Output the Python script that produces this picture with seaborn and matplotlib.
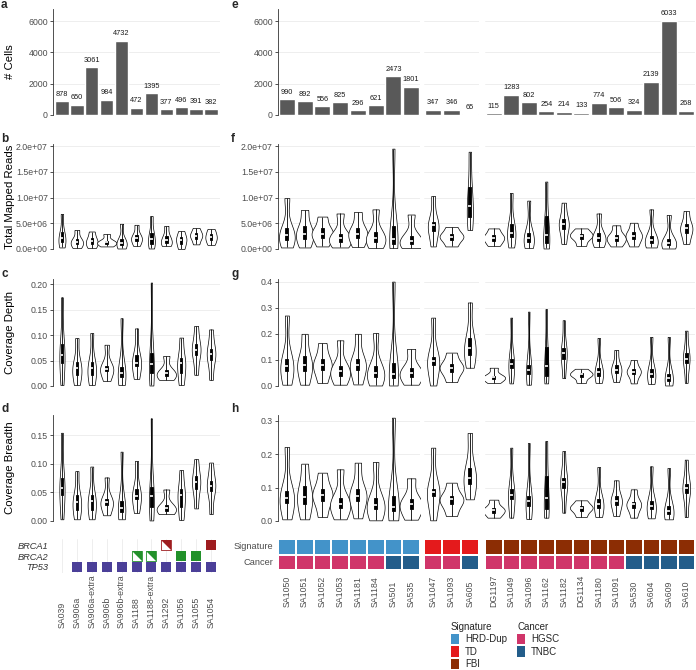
import matplotlib
matplotlib.use("Agg")
import matplotlib.pyplot as plt
import numpy as np
import pandas as pd
import seaborn as sns
from matplotlib.colors import ListedColormap
from matplotlib.patches import Patch
from matplotlib.ticker import FuncFormatter

# ---------------------------------------------------------------- data
left_samples = ["SA039", "SA906a", "SA906a-extra", "SA906b", "SA906b-extra",
                "SA1188", "SA1188-extra", "SA1292", "SA1056", "SA1055", "SA1054"]
left_cells = [878, 650, 3061, 984, 4732, 472, 1395, 377, 496, 391, 382]

# violin summaries: (min, q1, median, q3, max)
left_reads = [  # millions of reads
    (0.3, 1.3, 2.1, 3.3, 6.8), (0.2, 0.9, 1.4, 2.0, 3.7), (0.2, 0.9, 1.5, 2.2, 3.4),
    (0.5, 1.0, 1.3, 1.6, 2.9), (0.1, 0.7, 1.2, 1.9, 4.9), (0.6, 1.6, 2.1, 2.7, 4.7),
    (0.1, 1.0, 2.0, 3.2, 6.4), (0.6, 1.1, 1.7, 2.6, 4.5), (0.0, 1.0, 1.8, 2.4, 3.5),
    (0.9, 2.0, 2.6, 3.1, 4.1), (0.8, 1.7, 2.3, 3.0, 3.9),
]
left_depth = [
    (0.002, 0.045, 0.061, 0.082, 0.174), (0.002, 0.022, 0.035, 0.047, 0.094),
    (0.002, 0.022, 0.035, 0.048, 0.104), (0.010, 0.029, 0.034, 0.040, 0.081),
    (0.002, 0.018, 0.025, 0.038, 0.133), (0.014, 0.040, 0.045, 0.060, 0.113),
    (0.001, 0.025, 0.043, 0.065, 0.203), (0.012, 0.019, 0.025, 0.031, 0.059),
    (0.002, 0.025, 0.045, 0.055, 0.095), (0.022, 0.060, 0.071, 0.082, 0.118),
    (0.012, 0.052, 0.063, 0.073, 0.111),
]
left_breadth = [
    (0.003, 0.045, 0.057, 0.075, 0.154), (0.003, 0.020, 0.034, 0.045, 0.087),
    (0.003, 0.020, 0.035, 0.045, 0.095), (0.010, 0.028, 0.033, 0.038, 0.076),
    (0.003, 0.015, 0.022, 0.035, 0.121), (0.014, 0.038, 0.044, 0.055, 0.105),
    (0.001, 0.025, 0.043, 0.060, 0.179), (0.012, 0.018, 0.022, 0.028, 0.055),
    (0.002, 0.025, 0.045, 0.055, 0.089), (0.022, 0.055, 0.068, 0.078, 0.108),
    (0.012, 0.052, 0.061, 0.070, 0.102),
]

# mutation status per left sample
tp53_mut = ["none", "full", "full", "full", "full", "full", "full", "full", "full", "full", "full"]
brca2_mut = ["none", "none", "none", "none", "none", "half", "half", "none", "full", "full", "none"]
brca1_mut = ["none", "none", "none", "none", "none", "none", "none", "half", "none", "none", "full"]

hrd_samples = ["SA1050", "SA1051", "SA1052", "SA1053", "SA1181", "SA1184", "SA501", "SA535"]
td_samples = ["SA1047", "SA1093", "SA605"]
fbi_samples = ["DG1197", "SA1049", "SA1096", "SA1162", "SA1182", "DG1134",
               "SA1180", "SA1091", "SA530", "SA604", "SA609", "SA610"]

right_cells = [990, 892, 556, 825, 296, 621, 2473, 1801,
               347, 346, 65,
               115, 1283, 802, 254, 214, 133, 774, 506, 324, 2139, 6033, 268]
right_signature = ["HRD-Dup", "HRD-Dup", "HRD-Dup", "HRD-Dup", "HRD-Dup", "HRD-Dup", "HRD-Dup", "HRD-Dup",
                   "TD", "TD", "TD",
                   "FBI", "FBI", "FBI", "FBI", "FBI", "FBI", "FBI", "FBI", "FBI", "FBI", "FBI", "FBI"]
right_cancer = ["HGSC", "HGSC", "HGSC", "HGSC", "HGSC", "HGSC", "TNBC", "TNBC",
                "HGSC", "HGSC", "TNBC",
                "HGSC", "HGSC", "HGSC", "HGSC", "HGSC", "HGSC", "HGSC", "HGSC", "TNBC", "TNBC", "TNBC", "TNBC"]

right_reads = [  # millions of reads
    (0.3, 1.8, 2.7, 4.0, 9.9), (0.3, 2.0, 3.0, 4.4, 7.6), (0.5, 2.2, 3.0, 4.0, 6.3),
    (0.3, 1.4, 2.1, 3.0, 6.9), (0.4, 2.1, 3.0, 4.1, 7.2), (0.2, 1.4, 2.2, 3.3, 7.7),
    (0.2, 1.0, 1.9, 4.5, 19.5), (0.2, 0.9, 1.6, 2.6, 6.7),
    (0.5, 3.5, 4.7, 5.3, 10.3), (0.5, 1.8, 2.4, 3.0, 4.3), (3.7, 6.3, 8.4, 12.0, 18.9),
    (0.6, 1.6, 2.2, 2.8, 4.0), (0.3, 2.4, 3.2, 4.8, 10.9), (0.2, 1.3, 2.1, 3.2, 9.4),
    (0.1, 1.2, 2.8, 6.4, 13.1), (1.0, 3.8, 4.8, 5.8, 9.0), (0.6, 2.0, 2.6, 3.0, 4.0),
    (0.4, 1.5, 2.2, 3.1, 6.9), (0.5, 1.6, 2.1, 2.8, 4.6), (0.5, 1.9, 2.6, 3.3, 5.1),
    (0.3, 1.1, 1.7, 2.5, 7.7), (0.1, 0.7, 1.2, 1.9, 6.6), (1.0, 3.1, 4.0, 4.8, 7.4),
]
right_depth = [
    (0.005, 0.058, 0.077, 0.105, 0.270), (0.005, 0.058, 0.080, 0.115, 0.200),
    (0.012, 0.060, 0.080, 0.105, 0.165), (0.005, 0.040, 0.058, 0.075, 0.175),
    (0.006, 0.060, 0.080, 0.105, 0.200), (0.002, 0.035, 0.050, 0.075, 0.203),
    (0.002, 0.030, 0.045, 0.090, 0.400), (0.005, 0.035, 0.050, 0.070, 0.142),
    (0.002, 0.080, 0.095, 0.110, 0.262), (0.015, 0.055, 0.070, 0.085, 0.128),
    (0.070, 0.120, 0.145, 0.185, 0.320),
    (0.012, 0.027, 0.033, 0.040, 0.070), (0.010, 0.070, 0.083, 0.105, 0.262),
    (0.005, 0.045, 0.063, 0.080, 0.285), (0.010, 0.040, 0.075, 0.150, 0.295),
    (0.030, 0.105, 0.128, 0.145, 0.252), (0.012, 0.035, 0.045, 0.050, 0.066),
    (0.012, 0.040, 0.055, 0.070, 0.184), (0.015, 0.050, 0.063, 0.080, 0.138),
    (0.010, 0.045, 0.055, 0.065, 0.100), (0.008, 0.035, 0.047, 0.065, 0.188),
    (0.002, 0.020, 0.032, 0.045, 0.188), (0.012, 0.090, 0.105, 0.125, 0.212),
]
right_breadth = [
    (0.005, 0.055, 0.070, 0.090, 0.222), (0.005, 0.050, 0.073, 0.105, 0.172),
    (0.012, 0.060, 0.078, 0.095, 0.145), (0.005, 0.040, 0.050, 0.070, 0.155),
    (0.008, 0.060, 0.075, 0.095, 0.175), (0.002, 0.035, 0.047, 0.070, 0.177),
    (0.002, 0.030, 0.043, 0.075, 0.310), (0.004, 0.035, 0.050, 0.065, 0.128),
    (0.002, 0.075, 0.088, 0.095, 0.220), (0.015, 0.050, 0.065, 0.075, 0.115),
    (0.065, 0.110, 0.130, 0.160, 0.264),
    (0.010, 0.025, 0.033, 0.040, 0.064), (0.010, 0.065, 0.078, 0.095, 0.220),
    (0.006, 0.045, 0.060, 0.075, 0.234), (0.010, 0.035, 0.070, 0.135, 0.240),
    (0.025, 0.100, 0.116, 0.130, 0.210), (0.012, 0.030, 0.040, 0.045, 0.062),
    (0.012, 0.040, 0.052, 0.065, 0.162), (0.015, 0.048, 0.060, 0.075, 0.122),
    (0.010, 0.040, 0.050, 0.058, 0.095), (0.008, 0.035, 0.045, 0.060, 0.164),
    (0.005, 0.020, 0.030, 0.045, 0.159), (0.012, 0.085, 0.098, 0.110, 0.184),
]

category_names = ["HRD-Dup", "TD", "FBI", "HGSC", "TNBC"]
category_colors = ["#4393C9", "#E41A1C", "#8C2D04", "#D0356A", "#235D8A"]
gene_names = ["TP53", "BRCA2", "BRCA1"]
gene_colors = ["#4B3F98", "#22912A", "#9E1C1F"]

# ---------------------------------------------------------------- style
sns.set_theme(style="white")
plt.rcParams["font.family"] = ["Liberation Sans", "DejaVu Sans"]
TICK_COL = "#4D4D4D"
GRID_COL = "#EBEBEB"
TICK_FS = 6.3

W, H = 696, 670
fig = plt.figure(figsize=(W / 100, H / 100), dpi=100)


def add_ax(x0, y0, x1, y1):
    return fig.add_axes([x0 / W, 1 - y1 / H, (x1 - x0) / W, (y1 - y0) / H])


def style_panel(ax, first):
    for s in ax.spines.values():
        s.set_visible(False)
    ax.grid(axis="y", color=GRID_COL, lw=0.6)
    ax.grid(axis="x", visible=False)
    ax.set_axisbelow(True)
    ax.set_xlabel("")
    ax.set_ylabel("")
    ax.tick_params(axis="x", bottom=False, labelbottom=False)
    if first:
        ax.spines["left"].set_visible(True)
        ax.spines["left"].set_color("#333333")
        ax.spines["left"].set_linewidth(0.6)
        ax.tick_params(axis="y", left=True, length=2.2, width=0.6, color="#333333",
                       labelsize=TICK_FS, labelcolor=TICK_COL, pad=1.5)
    else:
        ax.tick_params(axis="y", left=False, labelleft=False)


def long_table(samples, stats, scale=1.0):
    return pd.DataFrame({
        "sample": np.repeat(samples, 5),
        "value": np.concatenate([np.asarray(s) * scale for s in stats]),
    })


def draw_bars(ax, samples, cells, nexp):
    sns.barplot(x=samples, y=cells, color="#595959", saturation=1, width=0.9, ax=ax)
    ax.bar_label(ax.containers[0], fontsize=5.3, padding=2.5, color="#1A1A1A")
    ax.set_xlim(-nexp, len(samples) - 1 + nexp)
    ax.set_ylim(0, 6770)
    ax.set_yticks([0, 2000, 4000, 6000])


def draw_violins(ax, df, samples, nexp):
    sns.violinplot(data=df, x="sample", y="value", order=samples, color="white",
                   linecolor="black", linewidth=0.5, cut=0, inner=None,
                   density_norm="area", width=1.3, bw_adjust=0.75, saturation=1, ax=ax)
    sns.boxplot(data=df, x="sample", y="value", order=samples, whis=(0, 100),
                width=0.17, showfliers=False, showcaps=False, color="black",
                linecolor="black", linewidth=0.6, saturation=1,
                medianprops=dict(color="white", lw=1.2), ax=ax)
    ax.set_xlim(-nexp, len(samples) - 1 + nexp)


# ---------------------------------------------------------------- layout (px)
LEFT_X = (53, 220)
RIGHT_X = [(278, 420), (424, 479), (485, 695)]
ROWS = [(9, 115), (144, 249), (279, 386), (415, 521)]
right_groups = [hrd_samples, td_samples, fbi_samples]
bounds = np.cumsum([0] + [len(g) for g in right_groups])

sci = FuncFormatter(lambda v, _: f"{v:.1e}")
fmt2 = FuncFormatter(lambda v, _: f"{v:.2f}")
fmt1 = FuncFormatter(lambda v, _: f"{v:.1f}")

metrics = [
    # left stats, right stats, scale, left ylim, right ylim, left ticks, right ticks, formatters
    (left_reads, right_reads, 1e6, (0, 2.04e7), (0, 2.04e7),
     [0, 5e6, 1e7, 1.5e7, 2e7], [0, 5e6, 1e7, 1.5e7, 2e7], sci, sci, "Total Mapped Reads"),
    (left_depth, right_depth, 1.0, (0, 0.21), (0, 0.41),
     [0, 0.05, 0.10, 0.15, 0.20], [0, 0.1, 0.2, 0.3, 0.4], fmt2, fmt1, "Coverage Depth"),
    (left_breadth, right_breadth, 1.0, (0, 0.185), (0, 0.318),
     [0, 0.05, 0.10, 0.15], [0, 0.1, 0.2, 0.3], fmt2, fmt1, "Coverage Breadth"),
]

YLAB_X = -0.228
YLAB_FS = 8.2

# row a / e: cell counts
ax = add_ax(LEFT_X[0], ROWS[0][0], LEFT_X[1], ROWS[0][1])
draw_bars(ax, left_samples, left_cells, 0.6)
style_panel(ax, True)
ax.set_ylabel("# Cells", fontsize=YLAB_FS, color="black")
ax.yaxis.set_label_coords(YLAB_X, 0.5)

for k, (x0, x1) in enumerate(RIGHT_X):
    ax = add_ax(x0, ROWS[0][0], x1, ROWS[0][1])
    lo, hi = bounds[k], bounds[k + 1]
    draw_bars(ax, right_groups[k], right_cells[lo:hi], 0.5)
    style_panel(ax, k == 0)

# rows b-d / f-h: violins
for r, (lstats, rstats, scale, lyl, ryl, lt, rt, lf, rf, title) in enumerate(metrics):
    y0, y1 = ROWS[r + 1]
    ax = add_ax(LEFT_X[0], y0, LEFT_X[1], y1)
    draw_violins(ax, long_table(left_samples, lstats, scale), left_samples, 0.6)
    ax.set_ylim(*lyl)
    ax.set_yticks(lt)
    ax.yaxis.set_major_formatter(lf)
    style_panel(ax, True)
    ax.set_ylabel(title, fontsize=YLAB_FS, color="black")
    ax.yaxis.set_label_coords(YLAB_X, 0.5)

    rdf = long_table(hrd_samples + td_samples + fbi_samples, rstats, scale)
    for k, (x0, x1) in enumerate(RIGHT_X):
        ax = add_ax(x0, y0, x1, y1)
        grp = right_groups[k]
        draw_violins(ax, rdf[rdf["sample"].isin(grp)], grp, 0.5)
        ax.set_ylim(*ryl)
        ax.set_yticks(rt)
        ax.yaxis.set_major_formatter(rf)
        style_panel(ax, k == 0)

# panel letters
letter_pos = [("a", 1, 8), ("b", 1, 142), ("c", 1, 277), ("d", 1, 412),
              ("e", 231, 8), ("f", 231, 142), ("g", 231, 277), ("h", 231, 412)]
for txt, x, y in letter_pos:
    fig.text(x / W, 1 - y / H, txt, fontsize=8.5, fontweight="bold", va="baseline", ha="left")

# mutation track (left)
ax = add_ax(LEFT_X[0], 539, LEFT_X[1], 573)
half_marker = [(-1, 1), (1, 1), (1, -1)]
for row, (status, col) in enumerate(zip([tp53_mut, brca2_mut, brca1_mut], gene_colors)):
    xf = [i for i, s in enumerate(status) if s == "full"]
    xh = [i for i, s in enumerate(status) if s == "half"]
    ax.scatter(xf, [row] * len(xf), marker="s", s=46, color=col, lw=0, zorder=3)
    ax.scatter(xh, [row] * len(xh), marker="s", s=46, facecolor="white",
               edgecolor=col, lw=0.6, zorder=3)
    ax.scatter(xh, [row] * len(xh), marker=half_marker, s=46, color=col, lw=0, zorder=4)
for s in ax.spines.values():
    s.set_visible(False)
ax.set_xlim(-0.6, len(left_samples) - 0.4)
ax.set_ylim(-0.6, 2.6)
ax.set_xticks(range(len(left_samples)))
ax.set_xticklabels(left_samples)
ax.set_yticks([0, 1, 2])
ax.set_yticklabels(gene_names, fontstyle="italic")
ax.grid(axis="x", color=GRID_COL, lw=0.6)
ax.grid(axis="y", visible=False)
ax.set_axisbelow(True)
ax.tick_params(axis="y", left=False, length=0, pad=3.5, labelsize=TICK_FS + 0.4,
               labelcolor="#333333")
ax.tick_params(axis="x", bottom=False, length=0, pad=39.6, labelsize=TICK_FS,
               labelcolor=TICK_COL)
plt.setp(ax.get_xticklabels(), rotation=90, va="bottom", ha="center")

# annotation heatmap (right)
cmap = ListedColormap(category_colors)
all_right = hrd_samples + td_samples + fbi_samples
for k, (x0, x1) in enumerate(RIGHT_X):
    ax = add_ax(x0, 539, x1, 570)
    lo, hi = bounds[k], bounds[k + 1]
    mat = pd.DataFrame(
        [[category_names.index(v) for v in right_signature[lo:hi]],
         [category_names.index(v) for v in right_cancer[lo:hi]]],
        index=["Signature", "Cancer"], columns=all_right[lo:hi])
    sns.heatmap(mat, cmap=cmap, vmin=-0.5, vmax=4.5, cbar=False, linewidths=1.2,
                linecolor="white", xticklabels=True, yticklabels=(k == 0), ax=ax)
    ax.tick_params(axis="x", bottom=False, length=0, pad=26.6, labelsize=TICK_FS,
                   labelcolor=TICK_COL)
    plt.setp(ax.get_xticklabels(), rotation=90, va="bottom", ha="center")
    ax.tick_params(axis="y", left=False, length=0, pad=3.5, labelsize=TICK_FS + 0.4,
                   labelcolor=TICK_COL)
    plt.setp(ax.get_yticklabels(), rotation=0)
    ax.set_xlabel("")
    ax.set_ylabel("")

# legends
leg_kw = dict(loc="upper left", frameon=False, fontsize=7, title_fontsize=7,
              alignment="left", handlelength=0.85, handleheight=1.25,
              handletextpad=0.6, labelspacing=0.2, borderpad=0, borderaxespad=0)
sig_handles = [Patch(facecolor=c, edgecolor="none") for c in category_colors[:3]]
fig.legend(sig_handles, category_names[:3], title="Signature",
           bbox_to_anchor=(451 / W, 1 - 622 / H), **leg_kw)
can_handles = [Patch(facecolor=c, edgecolor="none") for c in category_colors[3:]]
fig.legend(can_handles, category_names[3:], title="Cancer",
           bbox_to_anchor=(517 / W, 1 - 622 / H), **leg_kw)

fig.savefig("out.png", dpi=100)
